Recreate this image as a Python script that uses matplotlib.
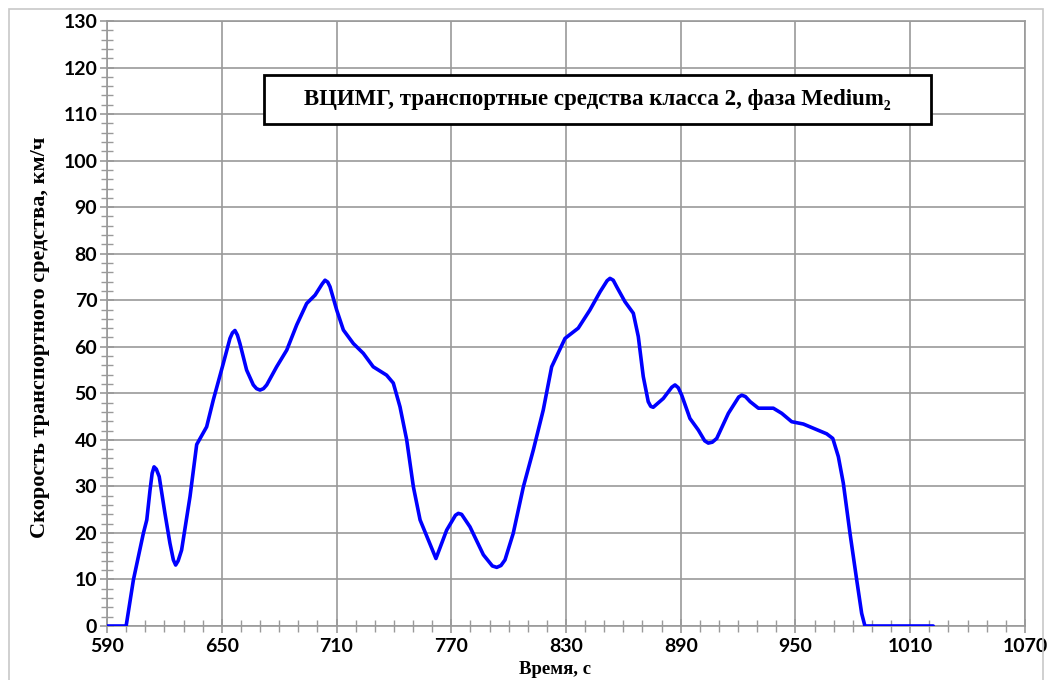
import matplotlib.pyplot as plt
from matplotlib.patches import Rectangle
from matplotlib.ticker import MultipleLocator

# speed trace (time in s, speed in km/h)
time = [590, 600, 603.8, 609, 610.8, 612.5, 613.6, 614.6, 615.8, 617.3, 620.3, 622.9,
        624.7, 625.9, 627.2, 629, 633.4, 636.9, 642.1, 645.6, 650.8, 654.3, 655.6,
        656.9, 658.2, 659.5, 663, 666.5, 668.2, 670, 671.8, 673.5, 678.7, 684, 689.2,
        694.4, 698.8, 702.5, 704, 705.4, 706.6, 710.1, 713.6, 718.8, 724, 729.2,
        736.2, 739.7, 743.2, 746.7, 750.2, 753.7, 758, 762, 767.6, 772.2, 773.7,
        775.4, 779.8, 786.8, 791.5, 793.8, 796, 798.1, 802.4, 807.7, 812.9, 818.1,
        822.5, 829.5, 836.4, 842.5, 847.8, 851.5, 853, 854.7, 856.5, 860.8, 865.2,
        867.8, 870.4, 873, 874.3, 875.6, 880.9, 885.3, 887, 888.7, 890.5, 894.8,
        899.2, 902.5, 904.4, 906.5, 908.8, 914.9, 920.3, 921.9, 923.8, 926.3, 930.6,
        938.4, 942.8, 948, 954.1, 959.3, 966.3, 969.5, 972.4, 975, 978.5, 982,
        984.6, 986.3, 1022]
speed = [0, 0, 9.9, 19.9, 22.8, 29.2, 32.8, 34.2, 33.7, 32.1, 24.2, 17.8,
         14.2, 13.1, 14.0, 16.3, 27.8, 39.0, 42.8, 48.6, 56.4, 61.8, 63.0,
         63.5, 62.5, 60.7, 55.0, 51.8, 51.0, 50.7, 51.0, 51.8, 55.7, 59.3, 64.7,
         69.3, 71.1, 73.5, 74.3, 73.9, 72.9, 67.9, 63.6, 60.7, 58.6, 55.7,
         53.9, 52.2, 47.1, 40.0, 29.9, 22.8, 18.5, 14.5, 20.6, 23.8, 24.2,
         24.0, 21.3, 15.3, 12.9, 12.6, 13.0, 14.2, 19.9, 29.9, 37.8, 46.4,
         55.7, 61.8, 64.0, 67.9, 71.8, 74.2, 74.7, 74.3, 72.9, 69.7, 67.2,
         62.2, 53.6, 48.2, 47.2, 47.0, 48.9, 51.3, 51.8, 51.2, 49.6, 44.6,
         42.1, 39.8, 39.3, 39.5, 40.3, 45.7, 49.2, 49.6, 49.3, 48.2, 46.8,
         46.8, 45.7, 43.9, 43.4, 42.5, 41.3, 40.3, 36.4, 30.7, 19.9, 9.9,
         2.7, 0, 0]

xticks = list(range(590, 1071, 60))
yticks = list(range(0, 131, 10))
title = 'ВЦИМГ, транспортные средства класса 2, фаза Medium₂'
xlabel = 'Время, с'
ylabel = 'Скорость транспортного средства, км/ч'

fig = plt.figure(figsize=(10.52, 6.8), dpi=100)
ax = fig.add_axes([107 / 1052, 1 - 626 / 680, 918 / 1052, 605 / 680])

ax.plot(time, speed, color='#0000ff', lw=2.6, solid_joinstyle='round',
        solid_capstyle='round', zorder=3)

ax.set_xlim(590, 1070)
ax.set_ylim(0, 130)
ax.set_xticks(xticks)
ax.set_yticks(yticks)
ax.xaxis.set_minor_locator(MultipleLocator(10))
ax.yaxis.set_minor_locator(MultipleLocator(2))
ax.grid(True, which='major', color='#9a9a9a', lw=1.2)
ax.set_axisbelow(True)
for s in ax.spines.values():
    s.set_color('#9a9a9a')
    s.set_linewidth(1.2)
ax.tick_params(which='major', direction='inout', length=10, width=1.2, color='#9a9a9a')
ax.tick_params(which='minor', direction='inout', length=8, width=1.0, color='#9a9a9a')
ax.tick_params(axis='x', pad=4)
ax.tick_params(axis='y', pad=2)
for lab in ax.get_xticklabels() + ax.get_yticklabels():
    lab.set_fontfamily('Lato')
    lab.set_fontweight('bold')
    lab.set_fontsize(14)

fig.text(40 / 1052, 1 - 337 / 680, ylabel, rotation=90, ha='center', va='center',
         family='Liberation Serif', weight='bold', fontsize=16)
fig.text(555 / 1052, 1 - 669 / 680, xlabel, ha='center', va='center',
         family='Liberation Serif', weight='bold', fontsize=13.5)

# title box
fig.patches.append(Rectangle((264 / 1052, 1 - 124 / 680), 667 / 1052, 49 / 680,
                             transform=fig.transFigure, facecolor='white',
                             edgecolor='black', lw=2, zorder=5))
fig.text(597 / 1052, 1 - 100 / 680, title, ha='center', va='center',
         family=['Liberation Serif', 'DejaVu Serif'], weight='bold', fontsize=16.5,
         zorder=6)

# outer frame
fig.patches.append(Rectangle((9 / 1052, -0.05), 1034 / 1052, 1.05 - 9 / 680,
                             transform=fig.transFigure, fill=False,
                             edgecolor='#c8c8c8', lw=1.2))

fig.savefig('out.png', dpi=100)
